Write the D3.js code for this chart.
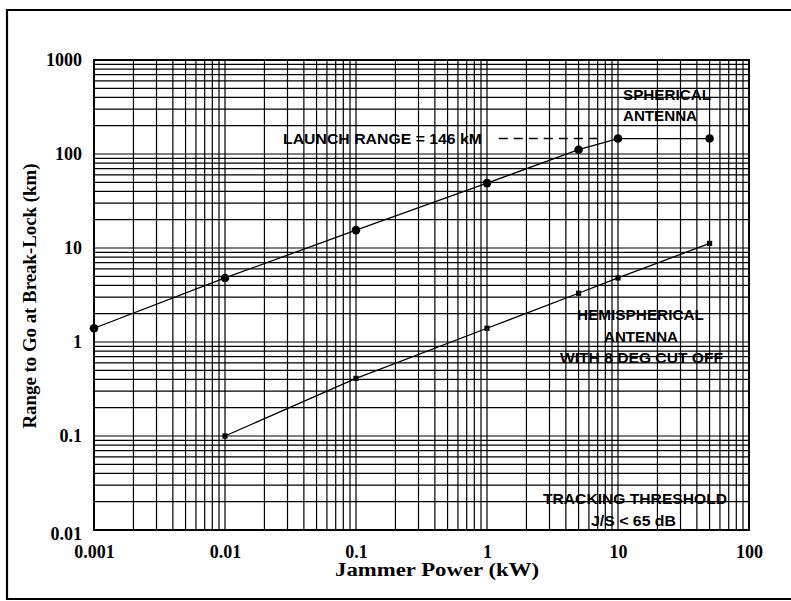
<!DOCTYPE html>
<html><head><meta charset="utf-8">
<script src="https://cdn.jsdelivr.net/npm/d3@7"></script>
<style>body{margin:0;background:#fff}svg{display:block}</style>
</head><body><svg id="c" width="791" height="601"></svg>
<script>
const xTicks = [0.001, 0.01, 0.1, 1, 10, 100];
const xTickLabels = ["0.001", "0.01", "0.1", "1", "10", "100"];
const yTicks = [0.01, 0.1, 1, 10, 100, 1000];
const yTickLabels = ["0.01", "0.1", "1", "10", "100", "1000"];
const power = [0.001, 0.01, 0.1, 1, 5, 10, 50];
const spherical = [1.4, 4.8, 15.5, 49, 111, 146, 146];
const hemiPower = [0.01, 0.1, 1, 5, 10, 50];
const hemispherical = [0.1, 0.41, 1.4, 3.3, 4.8, 11.2];
const launchRange = 146;
const launchDashFrom = 1.23; // kW where dashed leader starts (after label)

const svg = d3.select("#c");
const x = d3.scaleLog().domain([0.001, 100]).range([94, 749]);
const y = d3.scaleLog().domain([0.01, 1000]).range([530, 60]);

// outer frame
svg.append("path").attr("d", "M791,10 H7 V599 H791").attr("fill", "none").attr("stroke", "#000").attr("stroke-width", 2.2);

// grid values
const gx = [], gy = [];
for (let e = -3; e < 2; e++) for (let k = 1; k <= 9; k++) gx.push(k * Math.pow(10, e));
for (let e = -2; e < 3; e++) for (let k = 1; k <= 9; k++) gy.push(k * Math.pow(10, e));
const g = svg.append("g").attr("stroke", "#000").attr("stroke-width", 1.2);
g.selectAll(".vx").data(gx).join("line")
  .attr("x1", d => x(d)).attr("x2", d => x(d)).attr("y1", y(0.01)).attr("y2", y(1000));
g.selectAll(".hy").data(gy).join("line")
  .attr("y1", d => y(d)).attr("y2", d => y(d)).attr("x1", x(0.001)).attr("x2", x(100));
svg.append("rect").attr("x", x(0.001)).attr("y", y(1000))
  .attr("width", x(100) - x(0.001)).attr("height", y(0.01) - y(1000))
  .attr("fill", "none").attr("stroke", "#000").attr("stroke-width", 2);

// axes labels
const tickFont = "'Liberation Serif','Times New Roman',serif";
const xAxis = d3.axisBottom(x).tickValues(xTicks).tickFormat((d, i) => xTickLabels[i]).tickSize(0).tickPadding(0);
const xa = svg.append("g").attr("transform", "translate(0,545)").call(xAxis);
xa.select(".domain").remove();
xa.selectAll("text").attr("font-family", tickFont).attr("font-weight", "bold").attr("font-size", 18).attr("fill", "#000");

const yAxis = d3.axisLeft(y).tickValues(yTicks).tickFormat((d, i) => yTickLabels[i]).tickSize(0).tickPadding(0);
const ya = svg.append("g").attr("transform", "translate(82,0)").call(yAxis);
ya.select(".domain").remove();
ya.selectAll("text").attr("font-family", tickFont).attr("font-weight", "bold").attr("font-size", 18).attr("fill", "#000");
ya.selectAll(".tick").filter(d => d === 0.01).select("text").attr("dy", "0.5em");

svg.append("text").attr("x", 437).attr("y", 576).attr("text-anchor", "middle")
  .attr("font-family", tickFont).attr("font-weight", "bold").attr("font-size", 18)
  .attr("textLength", 204).attr("lengthAdjust", "spacingAndGlyphs").text("Jammer Power (kW)");
svg.append("text").attr("transform", "translate(36,296) rotate(-90)").attr("text-anchor", "middle")
  .attr("font-family", tickFont).attr("font-weight", "bold").attr("font-size", 18)
  .attr("textLength", 265).attr("lengthAdjust", "spacingAndGlyphs").text("Range to Go at Break-Lock (km)");

// data lines
const line = d3.line().x(d => x(d[0])).y(d => y(d[1]));
const sData = power.map((p, i) => [p, spherical[i]]);
const hData = hemiPower.map((p, i) => [p, hemispherical[i]]);
svg.append("path").attr("d", line(sData)).attr("fill", "none").attr("stroke", "#000").attr("stroke-width", 1.3);
svg.append("path").attr("d", line(hData)).attr("fill", "none").attr("stroke", "#000").attr("stroke-width", 1.3);
svg.selectAll(".sp").data(sData).join("circle")
  .attr("cx", d => x(d[0])).attr("cy", d => y(d[1])).attr("r", 4.3).attr("fill", "#000");
svg.selectAll(".hp").data(hData).join("rect")
  .attr("x", d => x(d[0]) - 2.6).attr("y", d => y(d[1]) - 2.6).attr("width", 5.2).attr("height", 5.2).attr("fill", "#000");

// launch range dashed leader
svg.append("line").attr("x1", x(launchDashFrom)).attr("x2", x(10) - 16)
  .attr("y1", y(launchRange)).attr("y2", y(launchRange))
  .attr("stroke", "#000").attr("stroke-width", 1.4).attr("stroke-dasharray", "9,6");

// annotations
const annFont = "'Liberation Sans',Arial,sans-serif";
function ann(txt, xx, yy, anchor, len) {
  svg.append("text").attr("x", xx).attr("y", yy).attr("text-anchor", anchor)
    .attr("font-family", annFont).attr("font-weight", "bold").attr("font-size", 15)
    .attr("textLength", len).attr("lengthAdjust", "spacingAndGlyphs")
    .attr("fill", "#000").text(txt);
}
ann("LAUNCH RANGE = 146 kM", 283, 144, "start", 199);
ann("SPHERICAL", 623, 100, "start", 88);
ann("ANTENNA", 623, 121, "start", 74);
ann("HEMISPHERICAL", 640.5, 320, "middle", 127);
ann("ANTENNA", 641, 342, "middle", 74);
ann("WITH 8 DEG CUT OFF", 641.5, 363, "middle", 163);
ann("TRACKING THRESHOLD", 635, 504, "middle", 184);
ann("J/S < 65 dB", 633.5, 526, "middle", 85);
</script></body></html>
